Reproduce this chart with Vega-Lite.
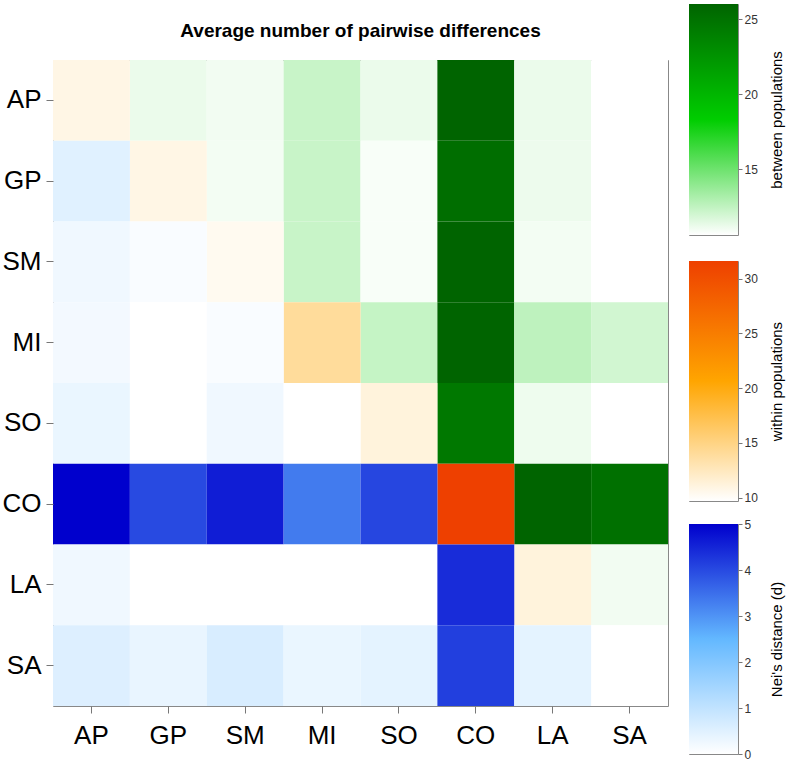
{
  "$schema": "https://vega.github.io/schema/vega-lite/v6.json",
  "padding": {"left": 1, "top": 3, "right": 2, "bottom": 2},
  "background": "white",
  "config": {
    "font": "Liberation Sans",
    "view": {"stroke": "#888888", "strokeWidth": 1},
    "axis": {"domain": false, "grid": false, "tickColor": "#777777", "labelFont": "Liberation Sans", "titleFont": "Liberation Sans"}
  },
  "spacing": 19,
  "hconcat": [
    {
      "spacing": 0,
      "vconcat": [
        {
          "width": 615,
          "height": 55,
          "view": {"stroke": null},
          "data": {"values": [{"label": "Average number of pairwise differences"}]},
          "mark": {"type": "text", "fontSize": 19, "fontWeight": "bold", "color": "black", "font": "Liberation Sans", "baseline": "middle", "align": "center", "dy": -1},
          "encoding": {"text": {"field": "label", "type": "nominal"}}
        },
        {
          "width": 615,
          "height": 646,
          "data": {"values": [
            {"row": "AP", "col": "AP", "type": "within", "value": 10.8},
            {"row": "AP", "col": "GP", "type": "between", "value": 11.2},
            {"row": "AP", "col": "SM", "type": "between", "value": 11.0},
            {"row": "AP", "col": "MI", "type": "between", "value": 12.25},
            {"row": "AP", "col": "SO", "type": "between", "value": 11.2},
            {"row": "AP", "col": "CO", "type": "between", "value": 26.0},
            {"row": "AP", "col": "LA", "type": "between", "value": 11.2},
            {"row": "AP", "col": "SA", "type": "between", "value": 10.6},
            {"row": "GP", "col": "AP", "type": "nei", "value": 0.5},
            {"row": "GP", "col": "GP", "type": "within", "value": 10.8},
            {"row": "GP", "col": "SM", "type": "between", "value": 10.95},
            {"row": "GP", "col": "MI", "type": "between", "value": 12.25},
            {"row": "GP", "col": "SO", "type": "between", "value": 10.8},
            {"row": "GP", "col": "CO", "type": "between", "value": 25.3},
            {"row": "GP", "col": "LA", "type": "between", "value": 11.15},
            {"row": "GP", "col": "SA", "type": "between", "value": 10.6},
            {"row": "SM", "col": "AP", "type": "nei", "value": 0.24},
            {"row": "SM", "col": "GP", "type": "nei", "value": 0.1},
            {"row": "SM", "col": "SM", "type": "within", "value": 10.35},
            {"row": "SM", "col": "MI", "type": "between", "value": 12.25},
            {"row": "SM", "col": "SO", "type": "between", "value": 10.8},
            {"row": "SM", "col": "CO", "type": "between", "value": 26.0},
            {"row": "SM", "col": "LA", "type": "between", "value": 10.95},
            {"row": "SM", "col": "SA", "type": "between", "value": 10.6},
            {"row": "MI", "col": "AP", "type": "nei", "value": 0.2},
            {"row": "MI", "col": "GP", "type": "nei", "value": 0.0},
            {"row": "MI", "col": "SM", "type": "nei", "value": 0.1},
            {"row": "MI", "col": "MI", "type": "within", "value": 14.0},
            {"row": "MI", "col": "SO", "type": "between", "value": 12.35},
            {"row": "MI", "col": "CO", "type": "between", "value": 26.0},
            {"row": "MI", "col": "LA", "type": "between", "value": 12.55},
            {"row": "MI", "col": "SA", "type": "between", "value": 12.0},
            {"row": "SO", "col": "AP", "type": "nei", "value": 0.33},
            {"row": "SO", "col": "GP", "type": "nei", "value": 0.0},
            {"row": "SO", "col": "SM", "type": "nei", "value": 0.24},
            {"row": "SO", "col": "MI", "type": "nei", "value": 0.0},
            {"row": "SO", "col": "SO", "type": "within", "value": 11.2},
            {"row": "SO", "col": "CO", "type": "between", "value": 24.5},
            {"row": "SO", "col": "LA", "type": "between", "value": 11.1},
            {"row": "SO", "col": "SA", "type": "between", "value": 10.6},
            {"row": "CO", "col": "AP", "type": "nei", "value": 5.0},
            {"row": "CO", "col": "GP", "type": "nei", "value": 4.0},
            {"row": "CO", "col": "SM", "type": "nei", "value": 4.6},
            {"row": "CO", "col": "MI", "type": "nei", "value": 3.33},
            {"row": "CO", "col": "SO", "type": "nei", "value": 4.05},
            {"row": "CO", "col": "CO", "type": "within", "value": 31.6},
            {"row": "CO", "col": "LA", "type": "between", "value": 26.0},
            {"row": "CO", "col": "SA", "type": "between", "value": 25.1},
            {"row": "LA", "col": "AP", "type": "nei", "value": 0.24},
            {"row": "LA", "col": "GP", "type": "nei", "value": 0.0},
            {"row": "LA", "col": "SM", "type": "nei", "value": 0.0},
            {"row": "LA", "col": "MI", "type": "nei", "value": 0.0},
            {"row": "LA", "col": "SO", "type": "nei", "value": 0.0},
            {"row": "LA", "col": "CO", "type": "nei", "value": 4.4},
            {"row": "LA", "col": "LA", "type": "within", "value": 11.2},
            {"row": "LA", "col": "SA", "type": "between", "value": 11.0},
            {"row": "SA", "col": "AP", "type": "nei", "value": 0.55},
            {"row": "SA", "col": "GP", "type": "nei", "value": 0.35},
            {"row": "SA", "col": "SM", "type": "nei", "value": 0.63},
            {"row": "SA", "col": "MI", "type": "nei", "value": 0.33},
            {"row": "SA", "col": "SO", "type": "nei", "value": 0.43},
            {"row": "SA", "col": "CO", "type": "nei", "value": 4.15},
            {"row": "SA", "col": "LA", "type": "nei", "value": 0.43},
            {"row": "SA", "col": "SA", "type": "within", "value": 9.7}
          ]},
          "encoding": {
            "x": {"field": "col", "type": "nominal", "sort": ["AP", "GP", "SM", "MI", "SO", "CO", "LA", "SA"], "scale": {"paddingInner": 0, "paddingOuter": 0},
                  "axis": {"title": null, "orient": "bottom", "labelAngle": 0, "labelFontSize": 26, "labelColor": "black", "tickSize": 7, "labelPadding": 9}},
            "y": {"field": "row", "type": "nominal", "sort": ["AP", "GP", "SM", "MI", "SO", "CO", "LA", "SA"], "scale": {"paddingInner": 0, "paddingOuter": 0},
                  "axis": {"title": null, "labelFontSize": 26, "labelColor": "black", "tickSize": 7, "labelPadding": 5}}
          },
          "layer": [
            {
              "transform": [{"filter": "datum.type === 'between'"}],
              "mark": {"type": "rect"},
              "encoding": {"color": {"field": "value", "type": "quantitative", "legend": null,
                "scale": {"domain": [10.6, 18.3, 26], "range": ["#ffffff", "#00cd00", "#006400"], "interpolate": "rgb", "clamp": true}}}
            },
            {
              "transform": [{"filter": "datum.type === 'within'"}],
              "mark": {"type": "rect"},
              "encoding": {"color": {"field": "value", "type": "quantitative", "legend": null,
                "scale": {"domain": [9.7, 20.65, 31.6], "range": ["#ffffff", "#ffa500", "#ee4000"], "interpolate": "rgb", "clamp": true}}}
            },
            {
              "transform": [{"filter": "datum.type === 'nei'"}],
              "mark": {"type": "rect"},
              "encoding": {"color": {"field": "value", "type": "quantitative", "legend": null,
                "scale": {"domain": [0, 2.5, 5], "range": ["#ffffff", "#63b8ff", "#0000cd"], "interpolate": "rgb", "clamp": true}}}
            }
          ],
          "resolve": {"scale": {"color": "independent"}}
        }
      ]
    },
    {
      "spacing": 12,
      "vconcat": [
        {
          "spacing": 24,
          "vconcat": [
            {
              "width": 49,
              "height": 231,
              "data": {"values": [{"lo": 10.6, "hi": 26}]},
              "mark": {"type": "rect", "color": {"gradient": "linear", "x1": 0, "y1": 1, "x2": 0, "y2": 0,
                "stops": [{"offset": 0, "color": "#ffffff"}, {"offset": 0.5, "color": "#00cd00"}, {"offset": 1, "color": "#006400"}]}},
              "encoding": {
                "y": {"field": "lo", "type": "quantitative", "scale": {"domain": [10.6, 26], "nice": false, "zero": false},
                      "axis": {"orient": "right", "values": [15, 20, 25], "title": "between populations", "titleAngle": 270, "titleBaseline": "top", "titleFontSize": 15, "titleFontWeight": "normal", "titleColor": "black", "titlePadding": 12, "labelFontSize": 12, "labelColor": "#333333", "tickSize": 4, "labelPadding": 2}},
                "y2": {"field": "hi"}
              }
            },
            {
              "width": 49,
              "height": 240,
              "data": {"values": [{"lo": 9.7, "hi": 31.6}]},
              "mark": {"type": "rect", "color": {"gradient": "linear", "x1": 0, "y1": 1, "x2": 0, "y2": 0,
                "stops": [{"offset": 0, "color": "#ffffff"}, {"offset": 0.5, "color": "#ffa500"}, {"offset": 1, "color": "#ee4000"}]}},
              "encoding": {
                "y": {"field": "lo", "type": "quantitative", "scale": {"domain": [9.7, 31.6], "nice": false, "zero": false},
                      "axis": {"orient": "right", "values": [10, 15, 20, 25, 30], "title": "within populations", "titleAngle": 270, "titleBaseline": "top", "titleFontSize": 15, "titleFontWeight": "normal", "titleColor": "black", "titlePadding": 12, "labelFontSize": 12, "labelColor": "#333333", "tickSize": 4, "labelPadding": 2}},
                "y2": {"field": "hi"}
              }
            }
          ]
        },
        {
          "width": 49,
          "height": 230,
          "data": {"values": [{"lo": 0, "hi": 5}]},
          "mark": {"type": "rect", "color": {"gradient": "linear", "x1": 0, "y1": 1, "x2": 0, "y2": 0,
            "stops": [{"offset": 0, "color": "#ffffff"}, {"offset": 0.5, "color": "#63b8ff"}, {"offset": 1, "color": "#0000cd"}]}},
          "encoding": {
            "y": {"field": "lo", "type": "quantitative", "scale": {"domain": [0, 5], "nice": false, "zero": false},
                  "axis": {"orient": "right", "values": [0, 1, 2, 3, 4, 5], "title": "Nei's distance (d)", "titleAngle": 270, "titleBaseline": "top", "titleFontSize": 15, "titleFontWeight": "normal", "titleColor": "black", "titlePadding": 19, "labelFontSize": 12, "labelColor": "#333333", "tickSize": 4, "labelPadding": 2}},
            "y2": {"field": "hi"}
          }
        }
      ]
    }
  ]
}
